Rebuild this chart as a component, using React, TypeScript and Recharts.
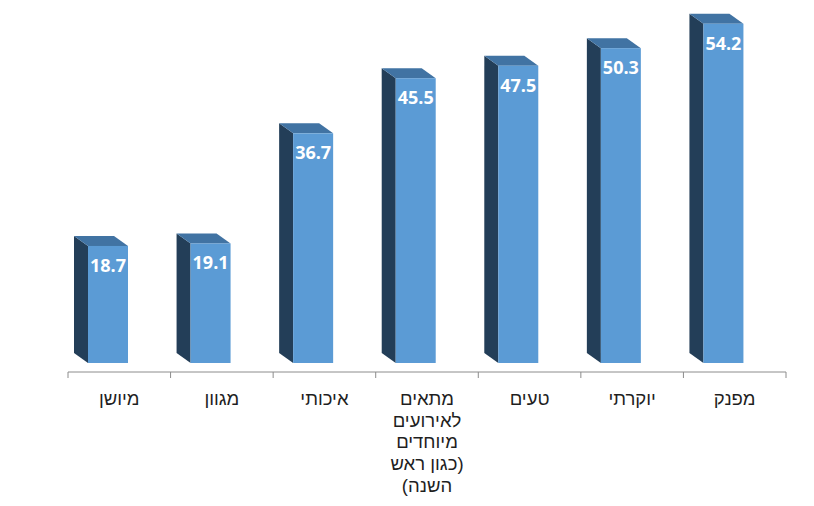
import { BarChart, Bar, XAxis, YAxis, LabelList } from "recharts"

// ─── Data ─────────────────────────────────────────────────────────────────────

const categoryLines: string[][] = [
  ["מיושן"],
  ["מגוון"],
  ["איכותי"],
  ["מתאים", "לאירועים", "מיוחדים", "(כגון ראש", "השנה)"],
  ["טעים"],
  ["יוקרתי"],
  ["מפנק"],
]

const categories = categoryLines.map((lines) => lines.join(" "))

const values = [18.7, 19.1, 36.7, 45.5, 47.5, 50.3, 54.2]

const data = categories.map((name, i) => ({ name, value: values[i] }))

// ─── Layout ───────────────────────────────────────────────────────────────────

const W = 814
const H = 506
const M_LEFT = 68
const M_RIGHT = 28
const X_AXIS_H = 134
const AXIS_Y = H - X_AXIS_H
const BAND = (W - M_LEFT - M_RIGHT) / categories.length

const FRONT = "#5B9BD5"
const SIDE = "#233E58"
const TOP = "#4173A3"
const DEPTH_X = 14
const DEPTH_Y = 10
const SHIFT = -11

// The svg text runs the whole Hebrew line right-to-left, parens included.
// Excel kept a dangling paren on the outer side of a wrapped line, so move it over.
function rtlLine(line: string) {
  if (line.startsWith("(") && !line.includes(")")) return line.slice(1) + ")"
  if (line.endsWith(")") && !line.includes("(")) return "(" + line.slice(0, -1)
  return line
}

function Bar3D(props: any) {
  const { x, y, width, height } = props
  if (height == null || width == null) return null
  const fx = x + SHIFT
  const bottom = y + height
  const side = `${fx},${y} ${fx - DEPTH_X},${y - DEPTH_Y} ${fx - DEPTH_X},${bottom - DEPTH_Y} ${fx},${bottom}`
  const top = `${fx},${y} ${fx - DEPTH_X},${y - DEPTH_Y} ${fx + width - DEPTH_X},${y - DEPTH_Y} ${fx + width},${y}`
  return (
    <g>
      <polygon points={side} fill={SIDE} />
      <polygon points={top} fill={TOP} />
      <rect x={fx} y={y} width={width} height={height} fill={FRONT} />
    </g>
  )
}

function ValueLabel(props: any) {
  const { x, y, width, value } = props
  return (
    <text
      x={x + width / 2 + SHIFT}
      y={y + 26}
      textAnchor="middle"
      fill="#ffffff"
      fontFamily="'Open Sans', sans-serif"
      fontWeight={700}
      fontSize={18}
    >
      {value}
    </text>
  )
}

function CategoryTick(props: any) {
  const { x, index } = props
  const lines = categoryLines[index] || []
  const left = x - BAND / 2
  const right = x + BAND / 2
  return (
    <g>
      <line x1={left} y1={AXIS_Y} x2={left} y2={AXIS_Y + 6} stroke="#8c8c8c" />
      {index === categories.length - 1 && (
        <line x1={right} y1={AXIS_Y} x2={right} y2={AXIS_Y + 6} stroke="#8c8c8c" />
      )}
      {lines.map((line, i) => (
        <text
          key={i}
          x={x}
          y={AXIS_Y + 33 + i * 21.7}
          textAnchor="middle"
          fill="#1f1f1f"
          fontFamily="'Liberation Sans', Arial, sans-serif"
          fontSize={18.5}
        >
          {rtlLine(line)}
        </text>
      ))}
    </g>
  )
}

export default function App() {
  return (
    <div style={{ position: "absolute", left: 0, top: 0, width: W, height: H, background: "#ffffff" }}>
      <BarChart
        width={W}
        height={H}
        data={data}
        margin={{ top: 0, right: M_RIGHT, left: M_LEFT, bottom: 0 }}
      >
        <XAxis
          dataKey="name"
          interval={0}
          height={X_AXIS_H}
          axisLine={{ stroke: "#8c8c8c" }}
          tickLine={false}
          tick={<CategoryTick />}
        />
        <YAxis hide domain={[-1.44, 58]} />
        <Bar dataKey="value" barSize={40} shape={<Bar3D />} isAnimationActive={false}>
          <LabelList dataKey="value" content={<ValueLabel />} />
        </Bar>
      </BarChart>
    </div>
  )
}
